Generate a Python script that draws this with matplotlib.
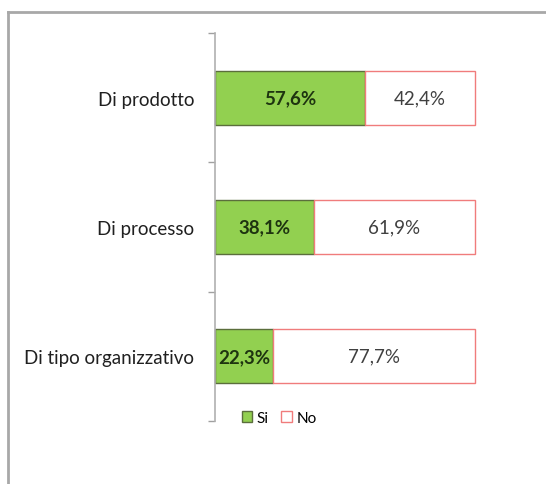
import matplotlib.pyplot as plt
from matplotlib.lines import Line2D
from matplotlib.patches import Patch

categories = ['Di prodotto', 'Di processo', 'Di tipo organizzativo']
si_values = [57.6, 38.1, 22.3]
no_values = [42.4, 61.9, 77.7]
labels = ['Si', 'No']

plt.rcParams['font.family'] = ['Lato', 'DejaVu Sans']

fig = plt.figure(figsize=(5.46, 4.85), dpi=100)
ax = fig.add_axes([215 / 546, 1 - 422 / 485, 260 / 546, 388 / 485])

green = '#92D050'
green_edge = '#5b6e3c'
red_edge = '#f07c7c'

y = list(range(len(categories)))
ax.barh(y, si_values, height=0.42, color=green, edgecolor=green_edge, linewidth=1, clip_on=False)
ax.barh(y, no_values, left=si_values, height=0.42, color='white', edgecolor=red_edge,
        linewidth=1, clip_on=False)

for i in y:
    ax.text(si_values[i] / 2, i, f"{si_values[i]:.1f}%".replace('.', ','),
            ha='center', va='center', fontsize=13.5, fontweight='bold', color='#1e3410')
    ax.text(si_values[i] + no_values[i] / 2, i, f"{no_values[i]:.1f}%".replace('.', ','),
            ha='center', va='center', fontsize=13.5, color='#404040')

ax.set_xlim(0, 100)
ax.set_ylim(len(categories) - 0.5, -0.5)
ax.set_yticks(y)
ax.set_yticklabels(categories, fontsize=13.5, color='#202020')
ax.set_yticks([-0.5, 0.5, 1.5, 2.5], minor=True)
ax.tick_params(axis='y', which='major', length=0, pad=15)
ax.tick_params(axis='y', which='minor', length=5, color='#a0a0a0', width=1)
ax.set_xticks([])
for s in ['top', 'right', 'bottom']:
    ax.spines[s].set_visible(False)
ax.spines['left'].set_color('#b0b0b0')
ax.spines['left'].set_linewidth(1.2)

handles = [Patch(facecolor=green, edgecolor=green_edge, label=labels[0]),
           Patch(facecolor='white', edgecolor=red_edge, label=labels[1])]
fig.legend(handles=handles, loc='center left', bbox_to_anchor=(234 / 546, 1 - 419 / 485),
           ncol=2, frameon=False, fontsize=11, handlelength=0.7, handleheight=0.7,
           handletextpad=0.3, columnspacing=0.8, borderpad=0)

# outer chart frame
fig.add_artist(Line2D([8 / 546, 8 / 546], [0, 1 - 13 / 485], color='#a8a8a8', linewidth=2))
fig.add_artist(Line2D([8 / 546, 1], [1 - 13 / 485, 1 - 13 / 485], color='#a8a8a8', linewidth=2))

fig.savefig('out.png', dpi=100)
